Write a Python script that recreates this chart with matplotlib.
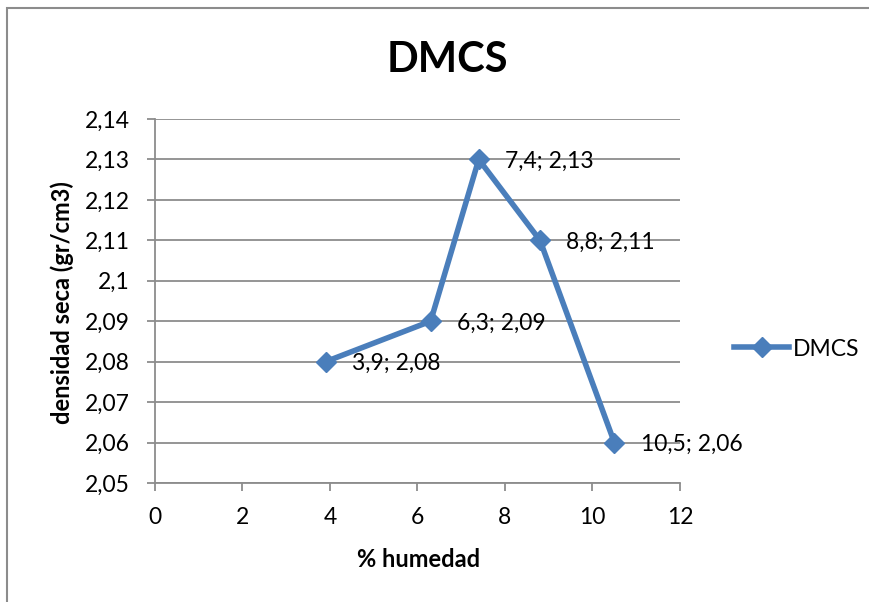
import matplotlib
matplotlib.use("Agg")
import matplotlib.pyplot as plt
from matplotlib.patches import Rectangle

humedad = [3.9, 6.3, 7.4, 8.8, 10.5]
densidad = [2.08, 2.09, 2.13, 2.11, 2.06]
x_ticks = [0, 2, 4, 6, 8, 10, 12]
y_ticks = [2.05, 2.06, 2.07, 2.08, 2.09, 2.10, 2.11, 2.12, 2.13, 2.14]

plt.rcParams['font.family'] = ['Lato', 'DejaVu Sans']

W, H = 870, 602
fig = plt.figure(figsize=(W / 100, H / 100), dpi=100)
fig.patch.set_facecolor('white')

# outer chart frame
fig.add_artist(Rectangle((7 / W, -0.01), 1.02, (H - 8) / H + 0.01,
                         transform=fig.transFigure, fill=False,
                         edgecolor='#8c8c8c', linewidth=1.5))

left, right, top, bottom = 155, 680, 119, 483
ax = fig.add_axes([left / W, 1 - bottom / H, (right - left) / W, (bottom - top) / H])

blue = '#4a7ebb'
ax.plot(humedad, densidad, color=blue, linewidth=4, marker='D', markersize=10,
        markerfacecolor=blue, markeredgecolor=blue, label='DMCS', zorder=3)


def fmt(v, nd):
    s = f"{v:.{nd}f}".rstrip('0').rstrip('.')
    return s.replace('.', ',')


for xv, yv in zip(humedad, densidad):
    ax.annotate(f"{fmt(xv, 1)}; {fmt(yv, 2)}", (xv, yv), xytext=(19, -1.5),
                textcoords='offset points', ha='left', va='center', fontsize=16.5,
                color='black')

ax.set_xlim(0, 12)
ax.set_ylim(2.05, 2.14)
ax.set_xticks(x_ticks)
ax.set_xticklabels([str(t) for t in x_ticks])
ax.set_yticks(y_ticks)
ax.set_yticklabels([fmt(t, 2) for t in y_ticks])

ax.grid(axis='y', color='#8c8c8c', linewidth=1.3)
ax.set_axisbelow(True)
for s in ['top', 'right']:
    ax.spines[s].set_visible(False)
for s in ['left', 'bottom']:
    ax.spines[s].set_color('#8c8c8c')
    ax.spines[s].set_linewidth(1.3)
ax.tick_params(axis='both', direction='out', length=6, width=1.3, color='#8c8c8c',
               labelsize=16.5)
ax.tick_params(axis='y', pad=12)
ax.tick_params(axis='x', pad=11)

ax.set_xlabel('% humedad', fontsize=17, fontweight='bold')
ax.set_ylabel('densidad seca (gr/cm3)', fontsize=17, fontweight='bold')
ax.xaxis.set_label_coords(0.502, -0.178)
ax.yaxis.set_label_coords(-0.154, 0.497)

fig.text(447 / W, 1 - 60 / H, 'DMCS', fontsize=30, fontweight='bold',
         ha='center', va='center')

leg = fig.legend(loc='center left', bbox_to_anchor=(725 / W, 1 - 349 / H),
                 frameon=False, fontsize=16.5, handlelength=2.4, handletextpad=0.15,
                 borderaxespad=0)

fig.savefig('out.png', dpi=100)
